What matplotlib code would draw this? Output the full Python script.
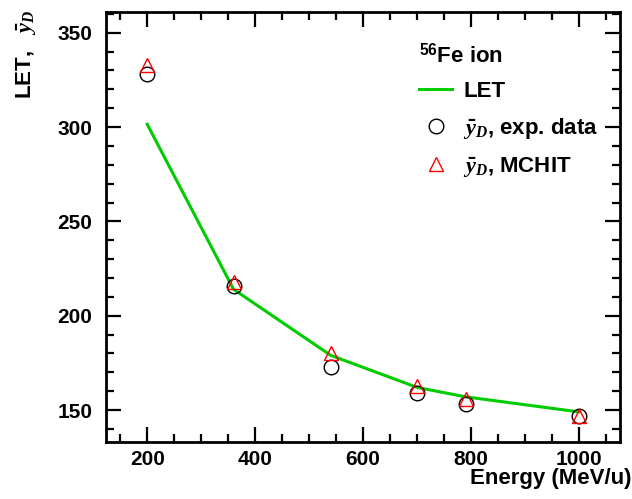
import matplotlib
matplotlib.use("Agg")
import matplotlib.pyplot as plt
from matplotlib.ticker import MultipleLocator

plt.rcParams["font.family"] = ["Liberation Sans", "DejaVu Sans"]
plt.rcParams["font.weight"] = "bold"
plt.rcParams["mathtext.fontset"] = "custom"
plt.rcParams["mathtext.rm"] = "Liberation Sans:bold"
plt.rcParams["mathtext.bf"] = "Liberation Sans:bold"
plt.rcParams["mathtext.it"] = "Liberation Serif:italic"

energy = [200, 360, 540, 700, 790, 1000]
let_values = [301.5, 214, 179, 162, 157, 149]
exp_data = [328, 216, 173, 159, 153, 147]
mchit = [333, 218, 180, 163, 156, 147]


def main():
    fig = plt.figure(figsize=(6.32, 4.99), dpi=100)
    ax = fig.add_axes([0.168, 0.114, 0.813, 0.862])

    ax.plot(energy, let_values, color="#00cc00", lw=2.2, label="LET", zorder=2)
    ax.plot(energy, exp_data, ls="none", marker="o", ms=10.5, mfc="none",
            mec="black", mew=1.0, label=r"$\bar{y}_D$, exp. data", zorder=3)
    ax.plot(energy, mchit, ls="none", marker="^", ms=10.5, mfc="none",
            mec="red", mew=1.0, label=r"$\bar{y}_D$, MCHIT", zorder=3)

    ax.set_xlim(124, 1076)
    ax.set_ylim(133, 361)
    ax.xaxis.set_major_locator(MultipleLocator(200))
    ax.xaxis.set_minor_locator(MultipleLocator(50))
    ax.yaxis.set_major_locator(MultipleLocator(50))
    ax.yaxis.set_minor_locator(MultipleLocator(10))
    ax.tick_params(which="both", direction="in", top=True, right=True,
                   width=1.6, labelsize=15)
    ax.tick_params(axis="x", pad=6)
    ax.tick_params(axis="y", pad=10)
    ax.tick_params(which="major", length=11)
    ax.tick_params(which="minor", length=6)
    for s in ax.spines.values():
        s.set_linewidth(2)

    ax.set_xlabel("Energy (MeV/u)", fontsize=16, fontweight="bold")
    ax.xaxis.set_label_coords(1.022, -0.06)
    ax.xaxis.label.set_ha("right")
    ax.set_ylabel(r"LET,   $\bar{y}_D$", fontsize=16, fontweight="bold")
    ax.yaxis.set_label_coords(-0.132, 1.005)
    ax.yaxis.label.set_ha("right")

    leg = ax.legend(loc="upper left", bbox_to_anchor=(0.57, 0.975),
                    frameon=False, fontsize=16, handlelength=1.5,
                    title=r"$^{56}$Fe ion", title_fontsize=16,
                    alignment="left", labelspacing=0.62, handletextpad=0.5)
    leg.get_title().set_fontweight("bold")

    fig.savefig("out.png", dpi=100)


if __name__ == "__main__":
    main()
